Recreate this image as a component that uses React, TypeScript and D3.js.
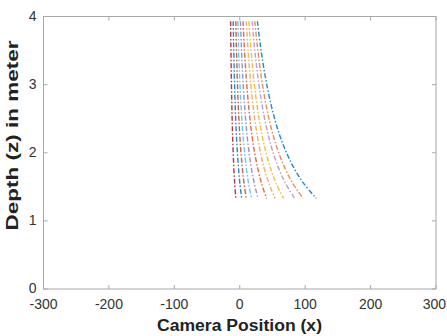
import React from "react";
import * as d3 from "d3";

const depths = [3.93, 3.6, 3.3, 3.0, 2.7, 2.4, 2.1, 1.8, 1.55, 1.33];
const s1 = [-14, -13.6, -13.2, -12.7, -12.1, -11.4, -10.4, -9.2, -7.7, -6];
const s2 = [-10, -9.4, -8.7, -7.9, -7.0, -5.8, -4.2, -2.1, 0.2, 3];
const s3 = [-6, -5.3, -4.4, -3.5, -2.3, -0.8, 1.1, 3.7, 6.6, 10];
const s4 = [-3, -2.0, -1.0, 0.3, 1.9, 3.8, 6.4, 9.7, 13.5, 18];
const s5 = [1, 2.3, 3.6, 5.3, 7.3, 9.8, 13.0, 17.3, 22.2, 28];
const s6 = [5, 6.7, 8.5, 10.7, 13.4, 16.7, 21.0, 26.8, 33.3, 41];
const s7 = [10, 12.1, 14.3, 17.0, 20.2, 24.3, 29.6, 36.6, 44.6, 54];
const s8 = [14, 16.5, 19.2, 22.4, 26.3, 31.3, 37.6, 46.1, 55.6, 67];
const s9 = [19, 22.0, 25.3, 29.3, 34.1, 40.2, 48.0, 58.3, 70.0, 84];
const s10 = [23, 26.5, 30.2, 34.7, 40.2, 47.1, 56.0, 67.8, 81.1, 97];
const s11 = [27, 31.2, 35.8, 41.3, 48.0, 56.3, 67.1, 81.5, 97.7, 117];

const seriesList = [s1, s2, s3, s4, s5, s6, s7, s8, s9, s10, s11];
const seriesColors = [
  "#A2142F", "#0072BD", "#B5472A", "#4DBEEE", "#8C7BC4", "#D95319",
  "#F0A050", "#EDB120", "#B08CC8", "#E07A3A", "#0072BD",
];

const xTicks = [-300, -200, -100, 0, 100, 200, 300];
const yTicks = [0, 1, 2, 3, 4];

const W = 447;
const H = 336;
const L = 43.5;
const R = 436;
const T = 16.5;
const B = 289;

export default function App() {
  const x = d3.scaleLinear().domain([-300, 300]).range([L, R]);
  const y = d3.scaleLinear().domain([0, 4]).range([B, T]);
  const line = d3
    .line<number>()
    .x((v) => x(v))
    .y((_, i) => y(depths[i]))
    .curve(d3.curveCatmullRom);
  const axisColor = "#a8a8a8";
  const tickColor = "#333";
  const font = "Arial, 'Liberation Sans', Helvetica, sans-serif";
  return (
    <svg
      width={W}
      height={H}
      style={{ position: "fixed", left: 0, top: 0, background: "#fff" }}
    >
      <rect x={0} y={0} width={W} height={H} fill="#fff" />
      {seriesList.map((s, k) => (
        <path
          key={k}
          d={line(s) || ""}
          fill="none"
          stroke={seriesColors[k]}
          strokeWidth={1.4}
          strokeDasharray="5,2,1.5,2"
          opacity={0.85}
        />
      ))}
      <rect
        x={L}
        y={T}
        width={R - L}
        height={B - T}
        fill="none"
        stroke={axisColor}
        strokeWidth={1}
      />
      {xTicks.map((t) => (
        <g key={"x" + t}>
          <line x1={x(t)} x2={x(t)} y1={B} y2={B - 4} stroke={axisColor} />
          <line x1={x(t)} x2={x(t)} y1={T} y2={T + 4} stroke={axisColor} />
          <text
            x={t === 300 ? W - 1 : x(t)}
            y={B + 20}
            textAnchor={t === 300 ? "end" : "middle"}
            fontFamily={font}
            fontSize={14}
            fill={tickColor}
          >
            {t}
          </text>
        </g>
      ))}
      {yTicks.map((t) => (
        <g key={"y" + t}>
          <line x1={L} x2={L + 4} y1={y(t)} y2={y(t)} stroke={axisColor} />
          <line x1={R} x2={R - 4} y1={y(t)} y2={y(t)} stroke={axisColor} />
          <text
            x={L - 7}
            y={y(t) + 4}
            textAnchor="end"
            fontFamily={font}
            fontSize={14}
            fill={tickColor}
          >
            {t}
          </text>
        </g>
      ))}
      <text
        x={(157 + 322) / 2}
        y={331}
        textAnchor="middle"
        fontFamily={font}
        fontSize={16}
        fontWeight="bold"
        fill="#222"
        textLength={165}
        lengthAdjust="spacingAndGlyphs"
      >
        Camera Position (x)
      </text>
      <text
        transform={`translate(18, ${(40 + 231) / 2}) rotate(-90)`}
        textAnchor="middle"
        fontFamily={font}
        fontSize={16}
        fontWeight="bold"
        fill="#222"
        textLength={190}
        lengthAdjust="spacingAndGlyphs"
      >
        Depth (z) in meter
      </text>
    </svg>
  );
}
